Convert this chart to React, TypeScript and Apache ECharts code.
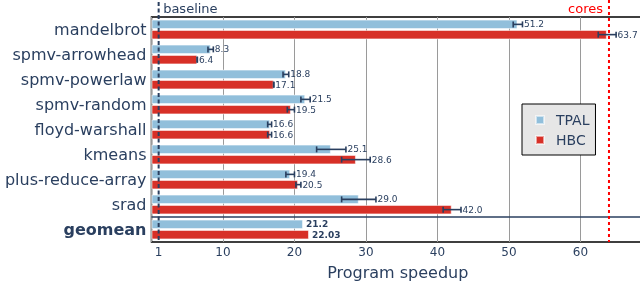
import React, { useEffect, useRef } from 'react';
import * as echarts from 'echarts';

const categories = ['mandelbrot', 'spmv-arrowhead', 'spmv-powerlaw', 'spmv-random', 'floyd-warshall', 'kmeans', 'plus-reduce-array', 'srad', 'geomean'];
const tpal = [51.2, 8.3, 18.8, 21.5, 16.6, 25.1, 19.4, 29.0, 21.2];
const tpalLow = [50.6, 7.9, 18.4, 20.9, 16.25, 23.1, 18.8, 26.6, 21.2];
const tpalHigh = [51.9, 8.65, 19.2, 22.2, 16.8, 27.2, 20.0, 31.4, 21.2];
const hbc = [63.7, 6.4, 17.1, 19.5, 16.6, 28.6, 20.5, 42.0, 22.03];
const hbcLow = [62.5, 6.38, 17.08, 19.0, 16.25, 26.6, 20.2, 40.8, 22.03];
const hbcHigh = [65.0, 6.42, 17.12, 20.0, 16.8, 30.6, 20.9, 43.3, 22.03];
const xTickLabels = [1, 10, 20, 30, 40, 50, 60];
const baselineValue = 1;
const coresValue = 64;

const TEXT = '#2a3f5f';
const FONT = '"DejaVu Sans", sans-serif';

function errSeries(name: string, vals: number[], lo: number[], hi: number[], sign: number) {
  return {
    name,
    type: 'custom',
    z: 5,
    silent: true,
    clip: false,
    encode: { x: [1, 2, 3], y: 0 },
    data: vals.map((v, i) => [i, lo[i], hi[i], v]),
    renderItem: (params: any, api: any) => {
      const ci = api.value(0);
      const l = api.value(1);
      const h = api.value(2);
      const v = api.value(3);
      const band = api.size([0, 1])[1];
      const base = api.coord([v, ci]);
      const y = base[1] + sign * band * 0.205;
      const xl = api.coord([l, ci])[0];
      const xh = api.coord([h, ci])[0];
      const isGeo = categories[ci] === 'geomean';
      const children: any[] = [];
      const ls = { stroke: TEXT, lineWidth: 1.6 };
      if (!isGeo) {
        children.push({ type: 'line', shape: { x1: xl, y1: y, x2: xh, y2: y }, style: ls });
        children.push({ type: 'line', shape: { x1: xl, y1: y - 3, x2: xl, y2: y + 3 }, style: ls });
        children.push({ type: 'line', shape: { x1: xh, y1: y - 3, x2: xh, y2: y + 3 }, style: ls });
      }
      children.push({
        type: 'text',
        x: isGeo ? base[0] + 3 : xh + 1.5,
        y,
        style: {
          text: isGeo ? String(v) : v.toFixed(1),
          fill: TEXT,
          fontSize: 9,
          fontFamily: FONT,
          fontWeight: isGeo ? 'bold' : 'normal',
          align: 'left',
          verticalAlign: 'middle',
        },
      });
      return { type: 'group', children };
    },
  };
}

export default function App() {
  const ref = useRef<HTMLDivElement>(null);
  useEffect(() => {
    if (!ref.current) return;
    const chart = echarts.init(ref.current, undefined, { renderer: 'svg' });
    const barStyle = (color: string) => ({ color, borderColor: 'rgba(255,255,255,0.55)', borderWidth: 1 });
    chart.setOption({
      animation: false,
      textStyle: { fontFamily: FONT },
      grid: {
        left: 151.5, top: 17, right: -4, bottom: 47,
        outerBoundsMode: 'none',
        containLabel: false,
        show: true, borderColor: '#000', borderWidth: 1.5, backgroundColor: '#fff',
      },
      legend: {
        data: ['TPAL', 'HBC'],
        orient: 'vertical',
        left: 522,
        top: 104,
        padding: [9, 6, 8, 13],
        itemGap: 6,
        itemWidth: 8,
        itemHeight: 8,
        icon: 'rect',
        backgroundColor: '#e6e6e6',
        borderColor: '#000',
        borderWidth: 1,
        borderRadius: 0,
        textStyle: { fontSize: 14, color: TEXT, fontFamily: FONT, lineHeight: 14, padding: [0, 0, 0, 7] },
      },
      xAxis: {
        type: 'value',
        min: 0,
        max: 68.9,
        interval: 10,
        name: 'Program speedup',
        nameLocation: 'middle',
        nameGap: 22,
        nameTextStyle: { fontSize: 16, color: TEXT, fontFamily: FONT },
        axisLine: { show: false },
        axisTick: { show: false },
        axisLabel: { customValues: xTickLabels, fontSize: 12, color: TEXT, margin: 4, fontFamily: FONT },
        splitLine: { show: true, lineStyle: { color: '#9a9a9a', width: 1 } },
      },
      yAxis: {
        type: 'category',
        data: categories,
        inverse: true,
        axisLine: { show: false },
        axisTick: { show: false },
        splitLine: { show: false },
        axisLabel: {
          fontSize: 16,
          color: TEXT,
          margin: 5,
          fontFamily: FONT,
          formatter: (v: string) => (v === 'geomean' ? '{b|' + v + '}' : v),
          rich: { b: { fontSize: 16, fontWeight: 'bold', color: TEXT, fontFamily: FONT } },
        },
      },
      series: [
        { name: 'TPAL', type: 'bar', data: tpal, barWidth: 9.5, barGap: '8%', itemStyle: barStyle('#91bfdb') },
        { name: 'HBC', type: 'bar', data: hbc, barWidth: 9.5, barGap: '8%', itemStyle: barStyle('#d73027') },
        errSeries('TPAL-err', tpal, tpalLow, tpalHigh, -1),
        errSeries('HBC-err', hbc, hbcLow, hbcHigh, 1),
      ],
    });
    const xb = chart.convertToPixel({ xAxisIndex: 0 }, baselineValue) as number;
    const xc = chart.convertToPixel({ xAxisIndex: 0 }, coresValue) as number;
    const y7 = chart.convertToPixel({ yAxisIndex: 0 }, 'srad') as number;
    const y8 = chart.convertToPixel({ yAxisIndex: 0 }, 'geomean') as number;
    const ySep = (y7 + y8) / 2;
    const yBottom = 289 - 47;
    chart.setOption({
      graphic: [
        { type: 'line', z: 50, shape: { x1: 151.5, y1: ySep, x2: 640, y2: ySep }, style: { stroke: TEXT, lineWidth: 1.5 } },
        { type: 'line', z: 50, shape: { x1: xb, y1: 2, x2: xb, y2: yBottom }, style: { stroke: TEXT, lineWidth: 2, lineDash: [4, 2.5] } },
        { type: 'line', z: 50, shape: { x1: xc, y1: 0, x2: xc, y2: yBottom }, style: { stroke: '#ff0000', lineWidth: 2, lineDash: [3, 3] } },
        { type: 'text', z: 50, x: xb + 4.5, y: 8, style: { text: 'baseline', fill: TEXT, fontSize: 13, fontFamily: FONT, align: 'left', verticalAlign: 'middle' } },
        { type: 'text', z: 50, x: xc - 6, y: 8, style: { text: 'cores', fill: '#ff0000', fontSize: 13, fontFamily: FONT, align: 'right', verticalAlign: 'middle' } },
      ],
    });
    return () => chart.dispose();
  }, []);
  return <div ref={ref} style={{ position: 'fixed', left: 0, top: 0, width: 640, height: 289 }} />;
}
